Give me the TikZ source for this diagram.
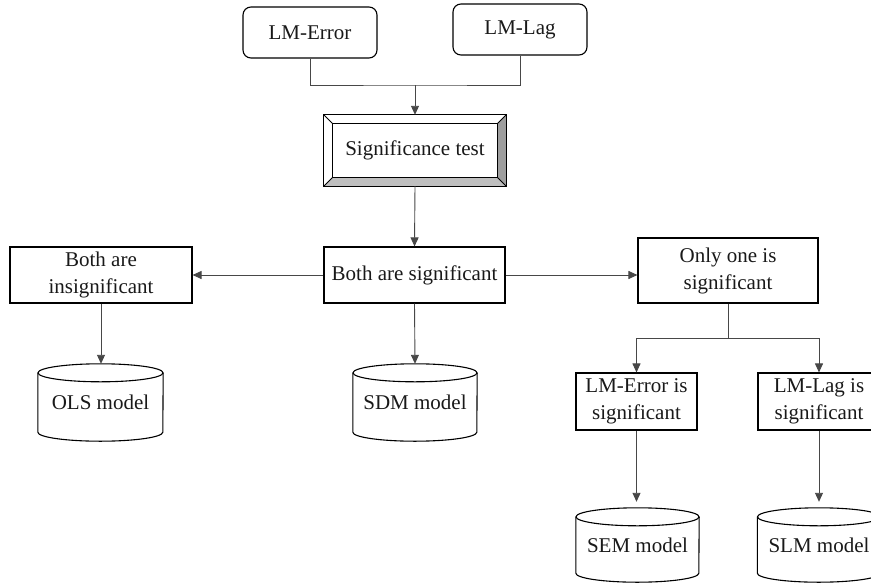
\documentclass[tikz,border=0pt]{standalone}
\usepackage{fontspec}
\setmainfont{Liberation Serif}
\usetikzlibrary{arrows.meta}
\newcommand{\drawcyl}[2]{%
  \draw[boxline] ([yshift=-9pt]#1.north west) -- ([yshift=9pt]#1.south west)
    arc[start angle=180, end angle=360, x radius=#2, y radius=9pt]
    -- ([yshift=-9pt]#1.north east);
  \draw[boxline] ([yshift=-9pt]#1.north) ellipse[x radius=#2, y radius=9pt];
}
\begin{document}
\begin{tikzpicture}[x=1pt,y=-1pt,
  txt/.style={align=center, inner sep=0pt, font=\fontsize{21}{27}\selectfont, text=black!90},
  box/.style={txt, draw=black, line width=1.1pt},
  rbox/.style={box, rounded corners=8pt},
  boxline/.style={draw=black, line width=1.1pt},
  conn/.style={draw=black!72, line width=0.9pt},
  arr/.style={conn, -{Triangle[length=9pt,width=8pt]}},
]
\useasboundingbox (0,0) rectangle (871,584);
\clip (0,0) rectangle (871,584);

% top boxes
\node[rbox, minimum width=134pt, minimum height=51pt] (lmerr) at (310,32.5) {LM-Error};
\node[rbox, minimum width=134pt, minimum height=51pt] (lmlag) at (520,29.5) {LM-Lag};

% significance test (bevelled)
\node[txt, minimum width=182pt, minimum height=71pt] (sig) at (415,150.5) {Significance test};
\coordinate (iNW) at ([xshift=9pt,yshift=-9pt]sig.north west);
\coordinate (iNE) at ([xshift=-9pt,yshift=-9pt]sig.north east);
\coordinate (iSW) at ([xshift=9pt,yshift=9pt]sig.south west);
\coordinate (iSE) at ([xshift=-9pt,yshift=9pt]sig.south east);
\fill[black!38] (sig.north east) -- (sig.south east) -- (iSE) -- (iNE) -- cycle;
\fill[black!25] (sig.south west) -- (sig.south east) -- (iSE) -- (iSW) -- cycle;
\draw[boxline] (sig.north west) rectangle (sig.south east);
\draw[boxline] (iNW) rectangle (iSE);
\draw[black, line width=0.8pt] (sig.north west) -- (iNW) (sig.north east) -- (iNE)
  (sig.south west) -- (iSW) (sig.south east) -- (iSE);

% middle row
\node[box, minimum width=181pt, minimum height=56pt] (both) at (414.5,275) {Both are significant};
\node[box, minimum width=182pt, minimum height=56pt] (insig) at (101,275) {Both are\\insignificant};
\node[box, minimum width=180pt, minimum height=65pt] (only) at (728,270.5) {Only one is\\significant};

% lower boxes
\node[box, minimum width=121pt, minimum height=57pt] (lmerrs) at (636.5,401.5) {LM-Error is\\significant};
\node[box, minimum width=122pt, minimum height=57pt] (lmlags) at (819,401.5) {LM-Lag is\\significant};

% cylinders
\node[txt, minimum width=125pt, minimum height=77pt] (ols) at (100.5,402.5) {\raisebox{-6pt}{OLS model}};
\node[txt, minimum width=124pt, minimum height=77pt] (sdm) at (415,402.5) {\raisebox{-6pt}{SDM model}};
\node[txt, minimum width=123pt, minimum height=74pt] (sem) at (637.5,545) {\raisebox{-2pt}{SEM model}};
\node[txt, minimum width=123pt, minimum height=74pt] (slm) at (819,545) {\raisebox{-2pt}{SLM model}};
\drawcyl{ols}{62.5pt}
\drawcyl{sdm}{62pt}
\drawcyl{sem}{61.5pt}
\drawcyl{slm}{61.5pt}

% connectors
\coordinate (j1) at (415,85);
\draw[conn] (lmerr.south) |- (j1) -| (lmlag.south);
\draw[arr] (j1) -- (sig.north);
\draw[arr] (sig.south) -- (both.north);
\draw[arr] (both.west) -- (insig.east);
\draw[arr] (both.east) -- (both.east -| only.west);
\draw[arr] (insig.south) -- (insig.south |- ols.north);
\draw[arr] (both.south) -- (sdm.north);
\coordinate (j2) at (728,338);
\draw[conn] (only.south) -- (j2);
\draw[arr] (j2) -| (lmerrs.north);
\draw[arr] (j2) -| (lmlags.north);
\draw[arr, shorten >=6pt] (lmerrs.south) -- (lmerrs.south |- sem.north);
\draw[arr, shorten >=6pt] (lmlags.south) -- (lmlags.south |- slm.north);
\end{tikzpicture}
\end{document}
